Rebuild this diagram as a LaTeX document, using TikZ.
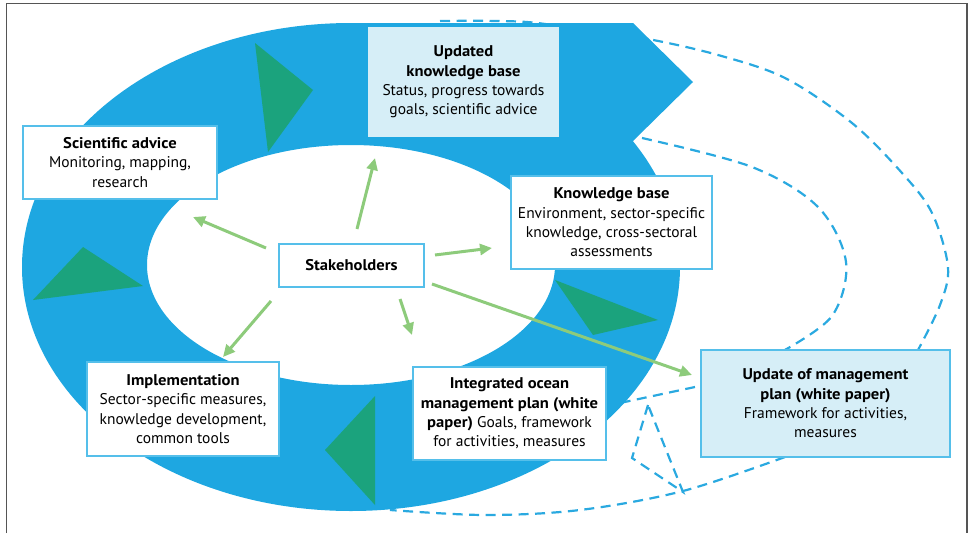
\documentclass[tikz,border=0pt]{standalone}
\usepackage{fontspec}
\setmainfont{PT Sans}[BoldFeatures={FakeStretch=1.07}]
\usetikzlibrary{arrows.meta}
\definecolor{ringblue}{HTML}{1EA7E1}
\definecolor{trigreen}{HTML}{1BA37D}
\definecolor{boxfill}{HTML}{D6EEF7}
\definecolor{boxline}{HTML}{55BFEA}
\definecolor{dashblue}{HTML}{2AA9E0}
\definecolor{arrgreen}{HTML}{8DCB7B}
\definecolor{framegray}{HTML}{555555}
\begin{document}
\begin{tikzpicture}[x=1pt,y=-1pt,
  box/.style={draw=boxline, line width=1.5pt, fill=white, align=center,
    font=\fontsize{15.5}{19.3}\selectfont, inner sep=0pt},
  lightbox/.style={box, fill=boxfill},
  dline/.style={dashblue, line width=2.2pt, dash pattern=on 10pt off 6.5pt},
  garrow/.style={arrgreen, line width=3pt, -{Triangle[length=12pt,width=11pt]}},
  tri/.style={fill=trigreen}]
\useasboundingbox (0,0) rectangle (969,533);
% frame
\draw[framegray, line width=1.5pt] (6.5,533) -- (6.5,3.5) -- (967,3.5) -- (967,533);
% boxes whose positions anchor the feedback lines
\coordinate (o1) at (440,21);
\coordinate (i1) at (642,138);
\coordinate (b1) at (390,510);
% dashed feedback lines (behind the ring)
\draw[dline] plot[smooth, tension=0.55] coordinates {(o1) (527,22) (600,33) (648,39) (718,55) (785,78) (852,123) (902,173) (932,213) (948,267) (940,305) (918,350)};
\draw[dline] plot[smooth, tension=0.55] coordinates {(i1) (752,167) (818,207) (846,262) (832,316) (783,351)};
\draw[dline] plot[smooth, tension=0.55] coordinates {(785,457) (683,491) (580,510) (485,515) (b1)};
\draw[dline] (695,387) -- (620,403);
\draw[dline] (648,405) -- (632,458) -- (683,492) -- cycle;
% ring
\fill[ringblue, even odd rule] (351,267) ellipse [x radius=329, y radius=244]
  (351,265) ellipse [x radius=204, y radius=120];
\fill[ringblue] (351,23) -- (633,23) -- (693,82) -- (633,141) -- (500,140) -- (351,60) -- cycle;
% green triangles
\fill[tri] (255,43) -- (313,90) -- (268,152) -- cycle;
\fill[tri] (83,247) -- (143,286) -- (33,300) -- cycle;
\fill[tri] (375,396) -- (325,450) -- (375,505) -- cycle;
\fill[tri] (555,280) -- (658,320) -- (593,335) -- cycle;
% boxes
\node[box, minimum width=194pt, minimum height=73pt] (sci) at (120,162.5)
  {\textbf{Scientific advice}\\Monitoring, mapping,\\research};
\node[lightbox, draw=none, minimum width=191pt, minimum height=110pt] (upd) at (463.5,82)
  {\textbf{Updated}\\\textbf{knowledge base}\\Status, progress towards\\goals, scientific advice};
\node[box, minimum width=201pt, minimum height=93pt] (kb) at (611.5,222.5)
  {\textbf{Knowledge base}\\Environment, sector-specific\\knowledge, cross-sectoral\\assessments};
\node[box, minimum width=145pt, minimum height=43pt] (stake) at (351.5,265.5)
  {\textbf{Stakeholders}};
\node[box, minimum width=192pt, minimum height=94pt] (impl) at (183,409)
  {\textbf{Implementation}\\Sector-specific measures,\\knowledge development,\\common tools};
\node[box, minimum width=193pt, minimum height=93pt] (iomp) at (509.5,413.5)
  {\textbf{Integrated ocean}\\\textbf{management plan (white}\\\textbf{paper)} Goals, framework\\for activities, measures};
\node[lightbox, minimum width=249pt, minimum height=107pt] (umpl) at (825.5,403.5)
  {\textbf{Update of management}\\\textbf{plan (white paper)}\\Framework for activities,\\measures};
% green arrows from stakeholders
\coordinate (s1) at (266,248); \coordinate (e1) at (193,217);
\coordinate (s2) at (357,229); \coordinate (e2) at (375,158);
\coordinate (s3) at (435,255); \coordinate (e3) at (492,248);
\coordinate (s4) at (271,301); \coordinate (e4) at (223,357);
\coordinate (s5) at (400,299); \coordinate (e5) at (412,335);
\coordinate (s6) at (432,284); \coordinate (e6) at (692,375);
\foreach \i in {1,...,6} { \draw[garrow] (s\i) -- (e\i); }
\end{tikzpicture}
\end{document}
